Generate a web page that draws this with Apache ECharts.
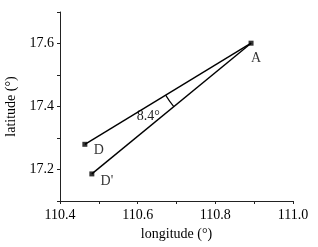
<!DOCTYPE html>
<html><head><meta charset="utf-8">
<script src="https://cdn.jsdelivr.net/npm/echarts@6/dist/echarts.min.js"></script>
<style>html,body{margin:0;padding:0;background:#fff}#c{width:318px;height:247px}</style>
</head><body><div id="c"></div>
<script>
const pointNames = ['A', 'D', "D'"];
const longitudes = [110.892, 110.464, 110.482];
const latitudes = [17.601, 17.280, 17.186];
const angleLabel = '8.4°';
const xTicks = [110.4, 110.6, 110.8, 111.0];
const yTicks = [17.2, 17.4, 17.6];

const FONT = '"Liberation Serif","Times New Roman",serif';
const chart = echarts.init(document.getElementById('c'));
const pts = pointNames.map((n, i) => [longitudes[i], latitudes[i]]);
const labelOffsets = {A: [5, 15], D: [14, 6], "D'": [15, 7]};

chart.setOption({
  animation: false,
  grid: {left: 60, right: 25, top: 12, bottom: 46, containLabel: false, outerBoundsMode: 'none'},
  xAxis: {
    type: 'value', min: 110.4, max: 111.0, interval: 0.1,
    name: 'longitude (°)', nameLocation: 'middle', nameGap: 20,
    nameTextStyle: {fontFamily: FONT, fontSize: 14, color: '#000'},
    axisLine: {show: true, lineStyle: {color: '#222', width: 1}},
    axisTick: {show: true, inside: false, length: 3, lineStyle: {color: '#222'}},
    axisLabel: {fontFamily: FONT, fontSize: 14, color: '#000', margin: 7,
      formatter: v => { const f = xTicks.find(t => Math.abs(t - v) < 1e-6); return f !== undefined ? f.toFixed(1) : ''; }},
    splitLine: {show: false}
  },
  yAxis: {
    type: 'value', min: 17.1, max: 17.7, interval: 0.1,
    name: 'latitude (°)', nameLocation: 'middle', nameGap: 38,
    nameTextStyle: {fontFamily: FONT, fontSize: 14, color: '#000'},
    axisLine: {show: true, lineStyle: {color: '#222', width: 1}},
    axisTick: {show: true, inside: false, length: 3, lineStyle: {color: '#222'}},
    axisLabel: {fontFamily: FONT, fontSize: 14, color: '#000', margin: 6,
      formatter: v => { const f = yTicks.find(t => Math.abs(t - v) < 1e-6); return f !== undefined ? f.toFixed(1) : ''; }},
    splitLine: {show: false}
  },
  series: [
    {type: 'line', data: [pts[1], pts[0]], symbol: 'none',
      lineStyle: {color: '#000', width: 1.4}},
    {type: 'line', data: [pts[2], pts[0]], symbol: 'none',
      lineStyle: {color: '#000', width: 1.4}},
    {type: 'scatter', symbol: 'rect', symbolSize: 5,
      itemStyle: {color: '#000'},
      data: pts.map((p, i) => ({value: p, name: pointNames[i],
        label: {show: true, position: 'inside', offset: labelOffsets[pointNames[i]],
          formatter: '{b}', fontFamily: FONT, fontSize: 14, color: '#000'}}))},
    {type: 'custom', data: [0], silent: true,
      renderItem: function (params, api) {
        const a = api.coord(pts[0]), d = api.coord(pts[1]), dp = api.coord(pts[2]);
        const t1 = Math.atan2(dp[1] - a[1], dp[0] - a[0]);
        const t2 = Math.atan2(d[1] - a[1], d[0] - a[0]);
        const r = 100, tm = (t1 + t2) / 2, rt = 126;
        return {type: 'group', children: [
          {type: 'arc', shape: {cx: a[0], cy: a[1], r: r, startAngle: t1, endAngle: t2, clockwise: true},
            style: {stroke: '#000', lineWidth: 1.2, fill: null}},
          {type: 'text', x: a[0] + rt * Math.cos(tm), y: a[1] + rt * Math.sin(tm),
            style: {text: angleLabel, font: '14px ' + FONT, fill: '#222', align: 'center', verticalAlign: 'middle'}}
        ]};
      }}
  ]
});
</script></body></html>
